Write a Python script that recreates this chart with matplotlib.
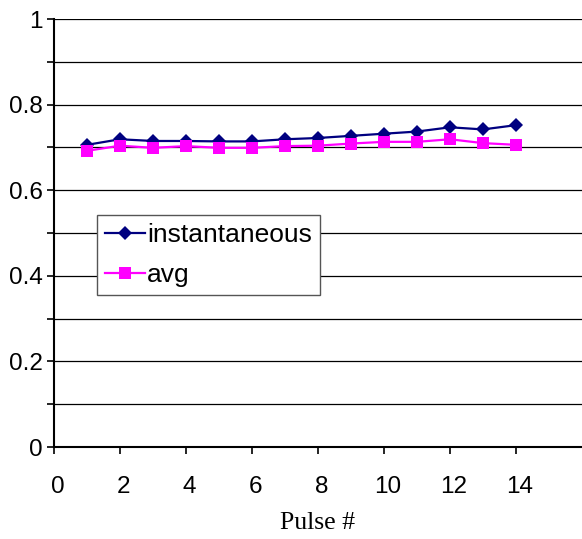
import numpy as np
import matplotlib
matplotlib.use("Agg")
from matplotlib import pyplot as plt
from matplotlib.ticker import MultipleLocator
import matplotlib.transforms as mtransforms

# pulse number and the two efficiency series
pulse = [1, 2, 3, 4, 5, 6, 7, 8, 9, 10, 11, 12, 13, 14]
inst = [0.706, 0.719, 0.715, 0.715, 0.714, 0.714, 0.719, 0.722, 0.727, 0.732, 0.737, 0.747, 0.742, 0.752]
avg = [0.692, 0.704, 0.699, 0.703, 0.699, 0.699, 0.703, 0.704, 0.709, 0.713, 0.713, 0.719, 0.710, 0.706]

plt.rcParams['font.family'] = ['Liberation Sans', 'DejaVu Sans']

W, H = 582, 539
fig = plt.figure(figsize=(W/100, H/100), dpi=100)
ax = fig.add_axes([54/W, 1-447/H, 528/W, 428/H])

ax.plot(pulse, inst, color='#000080', linewidth=1.6, marker='D', markersize=7.5,
        markeredgewidth=0, label='instantaneous', zorder=3)
ax.plot(pulse, avg, color='#FF00FF', linewidth=1.6, marker='s', markersize=8,
        markeredgewidth=0, label='avg', zorder=3)

ax.set_xlim(0, 16)
ax.set_ylim(0, 1)
ax.yaxis.set_minor_locator(MultipleLocator(0.1))
ax.set_xticks(np.arange(0, 16, 2))
ax.set_yticks([0, 0.2, 0.4, 0.6, 0.8, 1.0])
ax.set_yticklabels(['0', '0.2', '0.4', '0.6', '0.8', '1'])
ax.grid(which='both', axis='y', color='black', linewidth=0.9)
ax.set_axisbelow(True)

ax.tick_params(axis='both', which='both', direction='out', length=5, width=1.2,
               labelsize=17.5, color='black')
ax.tick_params(axis='x', pad=16)
ax.tick_params(axis='y', pad=3)

# nudge the x tick labels slightly to the right
shift = mtransforms.ScaledTranslation(3.5/100, 0, fig.dpi_scale_trans)
for lbl in ax.get_xticklabels():
    lbl.set_transform(lbl.get_transform() + shift)

for s in ['top', 'right']:
    ax.spines[s].set_visible(False)
for s in ['left', 'bottom']:
    ax.spines[s].set_linewidth(1.5)
    ax.spines[s].set_color('black')

ax.set_xlabel('Pulse #', family='Liberation Serif', fontsize=18.5, labelpad=10)

leg = ax.legend(loc='upper left', bbox_to_anchor=((97-54)/528, (447-215)/428),
                borderaxespad=0, fontsize=19, frameon=True, fancybox=False,
                handlelength=1.5, handletextpad=0.1, borderpad=0.3,
                labelspacing=0.6)
leg.get_frame().set_edgecolor('#555555')
leg.get_frame().set_linewidth(1.0)
leg.get_frame().set_alpha(1)

plt.savefig('out.png', dpi=100)
